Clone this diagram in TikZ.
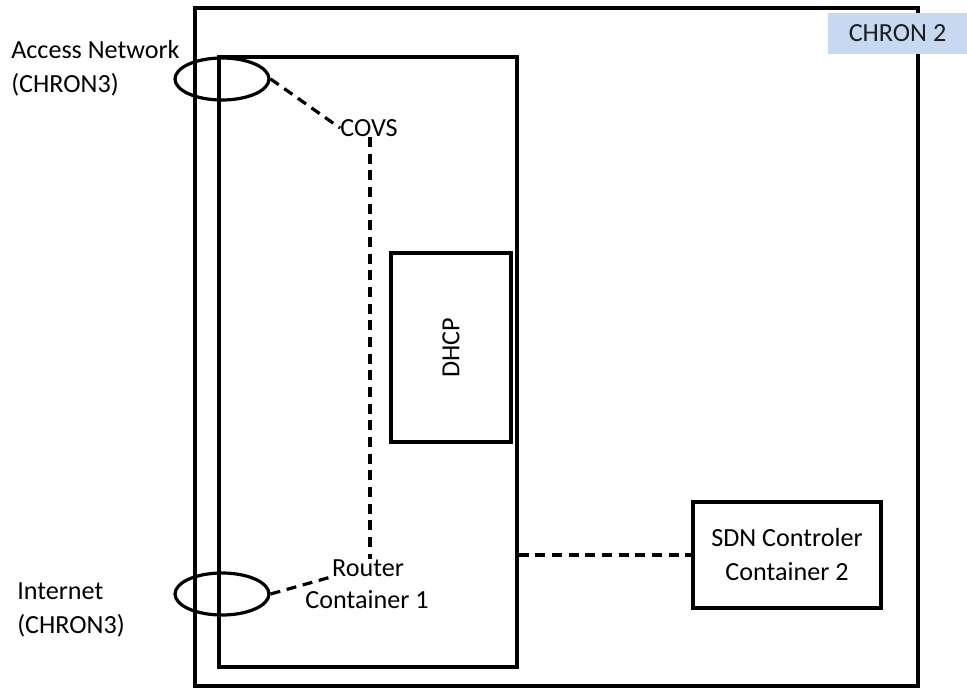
\documentclass[tikz,border=0pt]{standalone}
\usepackage{fontspec}
\setmainfont{Carlito}
\usetikzlibrary{shapes.geometric}

\begin{document}
\begin{tikzpicture}[
  x=0.75pt, y=-0.75pt,
  font=\fontsize{19.6}{25.5}\selectfont,
  every node/.style={inner sep=0pt},
  cbox/.style={draw, line width=2.4pt},
  port/.style={ellipse, draw, line width=2.4pt, minimum width=70.5pt, minimum height=31.5pt},
  link/.style={line width=2.4pt, dash pattern=on 7.5pt off 5pt},
  tag/.style={fill={rgb,255:red,198;green,217;blue,241}, text={rgb,255:red,30;green,30;blue,30}}
]
\useasboundingbox (0,0) rectangle (967,688);
% boxes
\node[cbox, minimum width=542.25pt, minimum height=508.5pt] (chron2) at (556.5,347) {};
\node[cbox, minimum width=223.5pt, minimum height=457.5pt] (cont1box) at (368,362) {};
\node[cbox, minimum width=90pt, minimum height=141.75pt] (dhcp) at (451,347.5) {};
\node[rotate=90] (dhcptxt) at (dhcp.center) {DHCP};
\node[cbox, minimum width=141pt, minimum height=79.5pt, align=center] (sdn) at (787,555) {SDN Controler\\Container 2};
\node[tag, minimum width=104pt, minimum height=31pt] (chronlbl) at (897.5,33.5) {CHRON 2};
% ports
\node[port] (access) at (222,79) {};
\node[port] (inet) at (222,594) {};
\node[anchor=west, align=left] (accesstxt) at (11,68) {Access Network\\(CHRON3)};
\node[anchor=west, align=left] (inettxt) at (17,610) {Internet\\(CHRON3)};
% inside container 1
\node (covs) at (369,128) {COVS};
\node (router) at (368,568) {Router};
\node (cont1) at (367,600) {Container 1};
% links
\draw[link] (access.east) -- (covs.west);
\draw[link] (covs.south -| 370,0) -- (router.north -| 370,0);
\draw[link] (inet.east) -- (router.south west);
\draw[link] (sdn.west -| cont1box.east) -- (sdn.west);
\end{tikzpicture}
\end{document}
